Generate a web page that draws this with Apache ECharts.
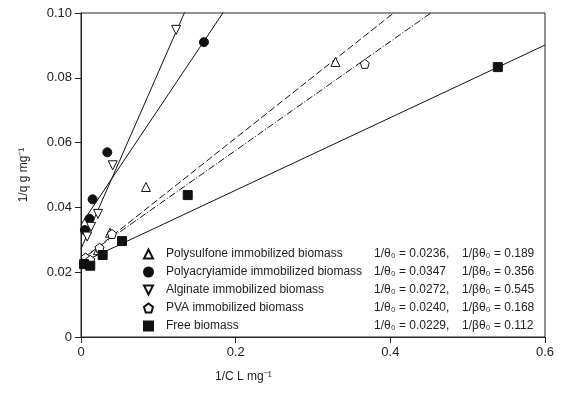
<!DOCTYPE html>
<html>
<head>
<meta charset="utf-8" />
<script src="https://cdn.jsdelivr.net/npm/echarts@6/dist/echarts.min.js"></script>
<style>
  html, body { margin: 0; padding: 0; background: #fff; }
  #chart { width: 565px; height: 397px; }
</style>
</head>
<body>
<div id="chart"></div>
<script>
// series names (legend order)
const names = [
  "Polysulfone immobilized biomass",
  "Polyacryiamide immobilized biomass",
  "Alginate immobilized biomass",
  "PVA immobilized biomass",
  "Free biomass"
];
// fitted intercepts 1/θ0 and slopes 1/βθ0
const intercepts = [0.0236, 0.0347, 0.0272, 0.0240, 0.0229];
const slopes = [0.189, 0.356, 0.545, 0.168, 0.112];
const interceptLabels = ["0.0236,", "0.0347", "0.0272,", "0.0240,", "0.0229,"];
const slopeLabels = ["0.189", "0.356", "0.545", "0.168", "0.112"];

// measured points, 1/C (x) and 1/q (y)
const polysulfoneX = [0.005, 0.022, 0.0375, 0.084, 0.329];
const polysulfoneY = [0.0232, 0.0268, 0.0322, 0.0463, 0.0849];
const polyacrylX = [0.005, 0.011, 0.015, 0.034, 0.159];
const polyacrylY = [0.033, 0.0365, 0.0425, 0.057, 0.091];
const alginateX = [0.008, 0.013, 0.022, 0.041, 0.123];
const alginateY = [0.031, 0.034, 0.038, 0.053, 0.0948];
const pvaX = [0.006, 0.012, 0.024, 0.040, 0.367];
const pvaY = [0.0245, 0.0238, 0.0275, 0.0318, 0.0843];
const freeX = [0.004, 0.012, 0.028, 0.053, 0.138, 0.539];
const freeY = [0.0225, 0.022, 0.0253, 0.0296, 0.0438, 0.0833];

const xTicks = [0, 0.2, 0.4, 0.6];
const yTicks = [0, 0.02, 0.04, 0.06, 0.08, 0.10];

const allX = [polysulfoneX, polyacrylX, alginateX, pvaX, freeX];
const allY = [polysulfoneY, polyacrylY, alginateY, pvaY, freeY];

const symbols = [
  "triangle",
  "circle",
  "path://M0,0 L10,0 L5,10 Z",
  "path://M5,0 L10,3.8 L8.1,10 L1.9,10 L0,3.8 Z",
  "rect"
];
const filled = [false, true, false, false, true];
const lineTypes = [[7, 3], "solid", "solid", [7, 2, 1, 2], "solid"];

const font = "Liberation Sans, Arial, sans-serif";
const xMax = xTicks[xTicks.length - 1];

const series = [];
names.forEach((name, i) => {
  series.push({
    name: name + " fit",
    type: "line",
    data: [[0, intercepts[i]], [xMax, intercepts[i] + slopes[i] * xMax]],
    symbol: "none",
    clip: true,
    silent: true,
    z: 2,
    lineStyle: { color: "#111", width: 1, type: lineTypes[i] }
  });
});
names.forEach((name, i) => {
  series.push({
    name: name,
    type: "scatter",
    data: allX[i].map((x, k) => [x, allY[i][k]]),
    symbol: symbols[i],
    symbolSize: 9,
    z: 5,
    itemStyle: {
      color: filled[i] ? "#111" : "#fff",
      borderColor: "#111",
      borderWidth: 1,
      opacity: 1
    }
  });
});

const chart = echarts.init(document.getElementById("chart"));
chart.setOption({
  animation: false,
  backgroundColor: "#fff",
  grid: {
    left: 81, right: 20, top: 13, bottom: 60,
    show: true, borderColor: "#222", borderWidth: 1
  },
  xAxis: {
    type: "value",
    min: 0, max: xMax, interval: 0.2,
    axisLine: { show: true, lineStyle: { color: "#222" } },
    axisTick: { show: true, length: 6, lineStyle: { color: "#222" } },
    axisLabel: {
      color: "#222", fontFamily: font, fontSize: 13, margin: 9,
      formatter: v => (v === 0 ? "0" : v.toFixed(1))
    },
    splitLine: { show: false }
  },
  yAxis: {
    type: "value",
    min: 0, max: 0.1, interval: 0.02,
    name: "1/q g mg\u207B\u00B9",
    nameLocation: "middle",
    nameGap: 51,
    nameTextStyle: { color: "#222", fontFamily: font, fontSize: 12 },
    axisLine: { show: true, lineStyle: { color: "#222" } },
    axisTick: { show: true, length: 6, lineStyle: { color: "#222" } },
    axisLabel: {
      color: "#222", fontFamily: font, fontSize: 13, margin: 9,
      formatter: v => (v === 0 ? "0" : v.toFixed(2))
    },
    splitLine: { show: false }
  },
  legend: {
    orient: "vertical",
    left: 138, top: 243,
    itemWidth: 9, itemHeight: 9,
    itemGap: 6,
    selectedMode: false,
    data: names,
    formatter: name => {
      const i = names.indexOf(name);
      return "{n|" + name + "}{a|1/\u03B8\u2080 = " + interceptLabels[i] + "}{b|1/\u03B2\u03B8\u2080 = " + slopeLabels[i] + "}";
    },
    textStyle: {
      color: "#222", fontFamily: font, fontSize: 12,
      rich: {
        n: { width: 208, fontSize: 12, lineHeight: 13, fontFamily: font, color: "#222", padding: [0, 0, 0, 8] },
        a: { width: 88, fontSize: 12, lineHeight: 13, fontFamily: font, color: "#222" },
        b: { fontSize: 12, lineHeight: 13, fontFamily: font, color: "#222" }
      }
    }
  },
  graphic: [{
    type: "text",
    left: 215, top: 371,
    style: { text: "1/C L mg\u207B\u00B9", fill: "#222", font: "12px " + font }
  }],
  series: series
});
</script>
</body>
</html>
